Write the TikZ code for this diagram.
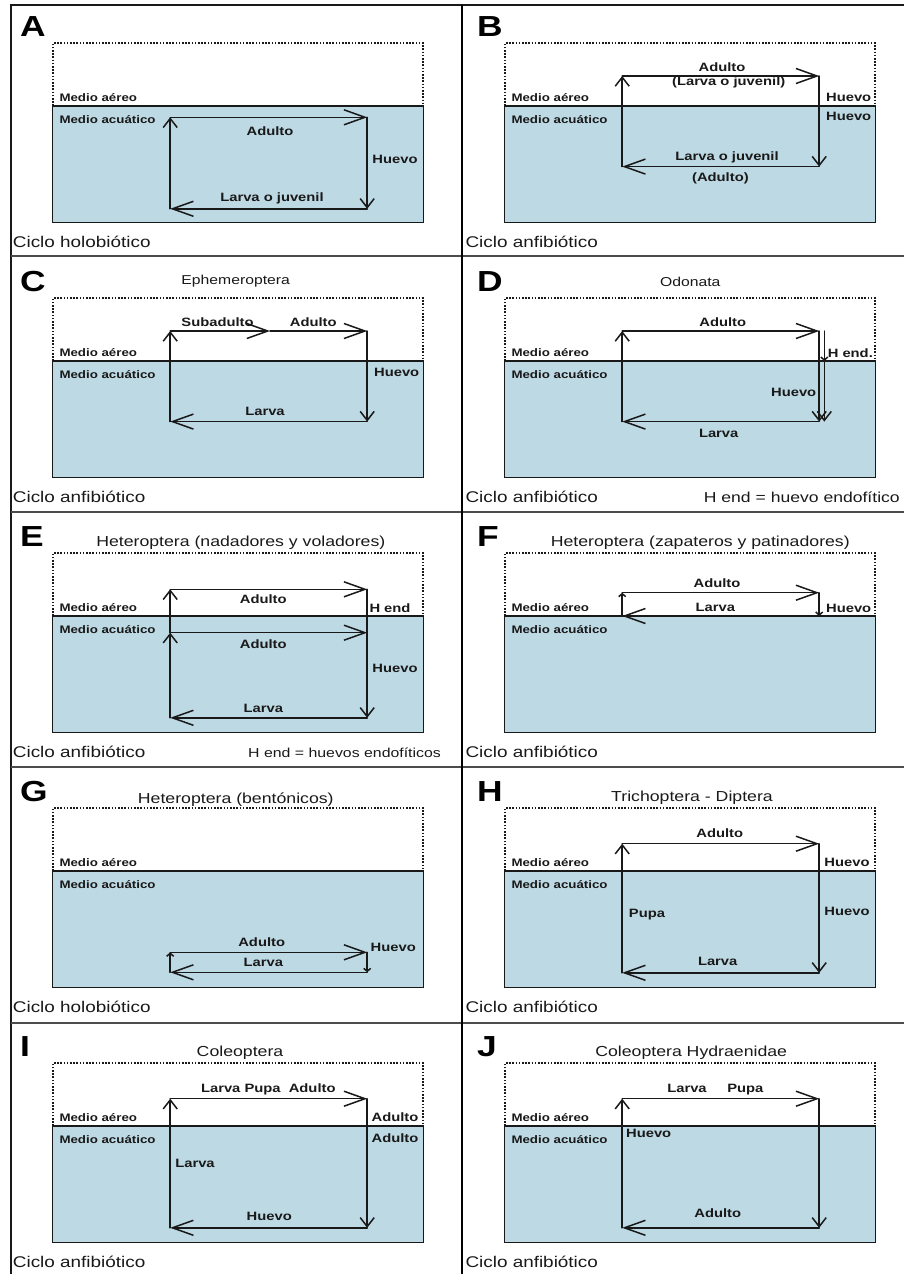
\documentclass[tikz,border=0pt]{standalone}
\usepackage{fontspec}
\setmainfont{Liberation Sans}[FakeStretch=1.22]
\usetikzlibrary{arrows.meta}
\definecolor{agua}{RGB}{189,217,227}
\definecolor{tinta}{RGB}{25,25,25}
\tikzset{
	aire/.style={draw=tinta, line width=1.8pt, dash pattern=on 1.6pt off 1.6pt},
	aguabox/.style={draw=tinta, fill=agua, line width=1.5pt},
	linea/.style={draw=tinta, line width=1.5pt, line cap=round},
	fh/.style={linea, -{Straight Barb[length=21pt,width=15pt]}},
	fv/.style={linea, -{Straight Barb[length=9pt,width=14pt]}},
	fc/.style={linea, -{Straight Barb[length=3pt,width=7pt]}},
	etapa/.style={text=tinta, inner sep=0pt, text height=8.7pt, text depth=0pt, font=\bfseries\fontsize{12.1}{14}\selectfont},
	medio/.style={text=tinta, inner sep=0pt, anchor=base west, font=\bfseries\fontsize{10.9}{12}\selectfont},
	tipo/.style={text=tinta, inner sep=0pt, anchor=base west, font=\fontsize{15.5}{18}\selectfont},
	nota/.style={text=tinta, inner sep=0pt, anchor=base west, font=\fontsize{13}{15}\selectfont},
	grupo/.style={text=tinta, inner sep=0pt, text height=10.4pt, text depth=0pt, font=\fontsize{14.5}{17}\selectfont},
	grupop/.style={grupo, text height=9.2pt, font=\fontsize{12.9}{15}\selectfont},
	letra/.style={inner sep=0pt, anchor=base west, font=\bfseries\fontsize{29}{32}\selectfont}
}
\newcommand{\medios}{%
	\draw[aire] (0,62.7) |- (370.6,0) -- (370.6,62.7);
	\draw[aguabox] (0,62.7) rectangle (370.6,179.2);
	\node[medio] (aereo) at (6.6,58.4) {Medio aéreo};
	\node[medio] (acuatico) at (6.6,79.7) {Medio acuático};
}
\newcommand{\esquinas}[2]{%
	\coordinate (tl) at (117.5,#1);
	\coordinate (tr) at (314.5,#1);
	\coordinate (bl) at (117.5,#2);
	\coordinate (br) at (314.5,#2);
}
\newcommand{\vuelta}{%
	\draw[fh] (tl) -- (tr);
	\draw[fv] (tr) -- (br);
	\draw[fh] (br) -- (bl);
	\draw[fv] (bl) -- (tl);
}

\begin{document}
\begin{tikzpicture}[x=1pt, y=-1pt]
	\useasboundingbox (0,0) rectangle (904,1274);
	\draw[line width=2pt, tinta] (10.5,1274) |- (904,5);
	\foreach \y in {256,512,767,1023}
		\draw[line width=1.8pt, black!70] (10.5,\y) -- (904,\y);
	\draw[line width=2.8pt, black] (462,5) -- (462,1274);
	
	% A
	\begin{scope}[shift={(52.7,43.3)}, name prefix=A-]
		\medios
		\node[letra] (letra) at (-32.7,-6.6) {A};
		\node[tipo] (tipo) at (-40,204) {Ciclo holobiótico};
		\esquinas{74}{165.5}
		\vuelta
		\node[etapa] (adulto) at (217.3,87.7) {Adulto};
		\node[etapa] (huevo) at (342.3,115.7) {Huevo};
		\node[etapa] (larva) at (219.3,153.7) {Larva o juvenil};
	\end{scope}
	
	% B
	\begin{scope}[shift={(504.7,43.3)}, name prefix=B-]
		\medios
		\node[letra] (letra) at (-27.7,-6.6) {B};
		\node[tipo] (tipo) at (-39.4,204) {Ciclo anfibiótico};
		\esquinas{32.7}{123.3}
		\vuelta
		\node[etapa] (adulto) at (217.3,24.3) {Adulto};
		\node[etapa] (larva2) at (224,37.7) {(Larva o juvenil)};
		\node[etapa] (huevo) at (344,54.3) {Huevo};
		\node[etapa] (huevo2) at (344,73.3) {Huevo};
		\node[etapa] (larva) at (222.3,112.7) {Larva o juvenil};
		\node[etapa] (adulto2) at (215.7,134.3) {(Adulto)};
	\end{scope}
	
	% C
	\begin{scope}[shift={(52.7,298.3)}, name prefix=C-]
		\medios
		\node[letra] (letra) at (-32.7,-6.6) {C};
		\node[grupop] (grupo) at (183,-18.3) {Ephemeroptera};
		\node[tipo] (tipo) at (-40,204) {Ciclo anfibiótico};
		\esquinas{32.7}{123.3}
		\coordinate (tm) at (217.3,32.7);
		\draw[fh] (tl) -- (tm);
		\draw[fh] (tm) -- (tr);
		\draw[fv] (tr) -- (br);
		\draw[fh] (br) -- (bl);
		\draw[fv] (bl) -- (tl);
		\node[etapa] (subadulto) at (164.8,23.4) {Subadulto};
		\node[etapa] (adulto) at (260.6,23.4) {Adulto};
		\node[etapa] (huevo) at (344,73.4) {Huevo};
		\node[etapa] (larva) at (212.3,112.7) {Larva};
	\end{scope}
	
	% D
	\begin{scope}[shift={(504.7,298.3)}, name prefix=D-]
		\medios
		\node[letra] (letra) at (-27.7,-6.6) {D};
		\node[grupop] (grupo) at (185.6,-16.6) {Odonata};
		\node[tipo] (tipo) at (-39.4,204) {Ciclo anfibiótico};
		\node[nota, font=\fontsize{14.4}{17}\selectfont] (nota) at (199,204) {H end = huevo endofítico};
		\esquinas{32.7}{123.3}
		\coordinate (tr2) at (319.6,32.7);
		\coordinate (wr2) at (319.6,62.7);
		\coordinate (br2) at (319.6,123.3);
		\vuelta
		\draw[fc] (tr2) -- (wr2);
		\draw[fv] (wr2) -- (br2);
		\node[etapa] (adulto) at (218,23.4) {Adulto};
		\node[etapa] (hend) at (345.6,54.4) {H end.};
		\node[etapa] (huevo) at (289,93.4) {Huevo};
		\node[etapa] (larva) at (214,135) {Larva};
	\end{scope}
	
	% E
	\begin{scope}[shift={(52.7,553.3)}, name prefix=E-]
		\medios
		\node[letra] (letra) at (-32.7,-6.6) {E};
		\node[grupo] (grupo) at (188.1,-11.6) {Heteroptera (nadadores y voladores)};
		\node[tipo] (tipo) at (-40,204) {Ciclo anfibiótico};
		\node[nota] (nota) at (195.3,204) {H end = huevos endofíticos};
		\esquinas{36}{164.5}
		\coordinate (ml) at (117.5,79.4);
		\coordinate (mr) at (314.5,79.4);
		\draw[fh] (tl) -- (tr);
		\draw[fh] (ml) -- (mr);
		\draw[fv] (tr) -- (br);
		\draw[fh] (br) -- (bl);
		\draw[fv] (bl) -- (ml);
		\draw[fv] (ml) -- (tl);
		\node[etapa] (adulto) at (210.6,46) {Adulto};
		\node[etapa] (hend) at (337.3,54.4) {H end};
		\node[etapa] (adulto2) at (210.6,91) {Adulto};
		\node[etapa] (huevo) at (342.3,115) {Huevo};
		\node[etapa] (larva) at (210.6,154.4) {Larva};
	\end{scope}
	
	% F
	\begin{scope}[shift={(504.7,553.3)}, name prefix=F-]
		\medios
		\node[letra] (letra) at (-27.7,-6.6) {F};
		\node[grupo] (grupo) at (195.6,-11.6) {Heteroptera (zapateros y patinadores)};
		\node[tipo] (tipo) at (-39.4,204) {Ciclo anfibiótico};
		\esquinas{39.4}{62.7}
		\draw[fh] (tl) -- (tr);
		\draw[fc] (tr) -- (br);
		\draw[fh] (br) -- (bl);
		\draw[fc] (bl) -- (tl);
		\node[etapa] (adulto) at (212.3,30) {Adulto};
		\node[etapa] (larva) at (210.6,53.4) {Larva};
		\node[etapa] (huevo) at (344,54.4) {Huevo};
	\end{scope}
	
	% G
	\begin{scope}[shift={(52.7,808.3)}, name prefix=G-]
		\medios
		\node[letra] (letra) at (-32.7,-6.6) {G};
		\node[grupo] (grupo) at (183.1,-10) {Heteroptera (bentónicos)};
		\node[tipo] (tipo) at (-40,204) {Ciclo holobiótico};
		\esquinas{144}{164}
		\draw[fh] (tl) -- (tr);
		\draw[fc] (tr) -- (br);
		\draw[fh] (br) -- (bl);
		\draw[fc] (bl) -- (tl);
		\node[etapa] (adulto) at (209,133.4) {Adulto};
		\node[etapa] (larva) at (210.6,154) {Larva};
		\node[etapa] (huevo) at (340.6,139) {Huevo};
	\end{scope}
	
	% H
	\begin{scope}[shift={(504.7,808.3)}, name prefix=H-]
		\medios
		\node[letra] (letra) at (-27.7,-6.6) {H};
		\node[grupo] (grupo) at (187.3,-11.6) {Trichoptera - Diptera};
		\node[tipo] (tipo) at (-39.4,204) {Ciclo anfibiótico};
		\esquinas{35.4}{164.5}
		\vuelta
		\node[etapa] (adulto) at (215,25) {Adulto};
		\node[etapa] (huevo) at (342.3,53.4) {Huevo};
		\node[etapa] (huevo2) at (342.3,102.4) {Huevo};
		\node[etapa] (pupa) at (142.3,104.4) {Pupa};
		\node[etapa] (larva) at (213,152.7) {Larva};
	\end{scope}
	
	% I
	\begin{scope}[shift={(52.7,1063.3)}, name prefix=I-]
		\medios
		\node[letra] (letra) at (-32.7,-6.6) {I};
		\node[grupo] (grupo) at (187.3,-11.6) {Coleoptera};
		\node[tipo] (tipo) at (-40,204) {Ciclo anfibiótico};
		\esquinas{35.4}{164.5}
		\vuelta
		\node[etapa] (fases) at (215.6,25) {Larva Pupa\ \ Adulto};
		\node[etapa] (adulto) at (342.3,53.4) {Adulto};
		\node[etapa] (adulto2) at (342.3,75) {Adulto};
		\node[etapa] (larva) at (142.3,100) {Larva};
		\node[etapa] (huevo) at (216.6,152.7) {Huevo};
	\end{scope}
	
	% J
	\begin{scope}[shift={(504.7,1063.3)}, name prefix=J-]
		\medios
		\node[letra] (letra) at (-27.7,-6.6) {J};
		\node[grupo] (grupo) at (186.5,-11.6) {Coleoptera Hydraenidae};
		\node[tipo] (tipo) at (-39.4,204) {Ciclo anfibiótico};
		\esquinas{35.4}{164.5}
		\vuelta
		\node[etapa] (larva) at (182.3,25) {Larva};
		\node[etapa] (pupa) at (240.6,25) {Pupa};
		\node[etapa] (huevo) at (144,69.4) {Huevo};
		\node[etapa] (adulto) at (213,149.4) {Adulto};
	\end{scope}
\end{tikzpicture}
\end{document}
